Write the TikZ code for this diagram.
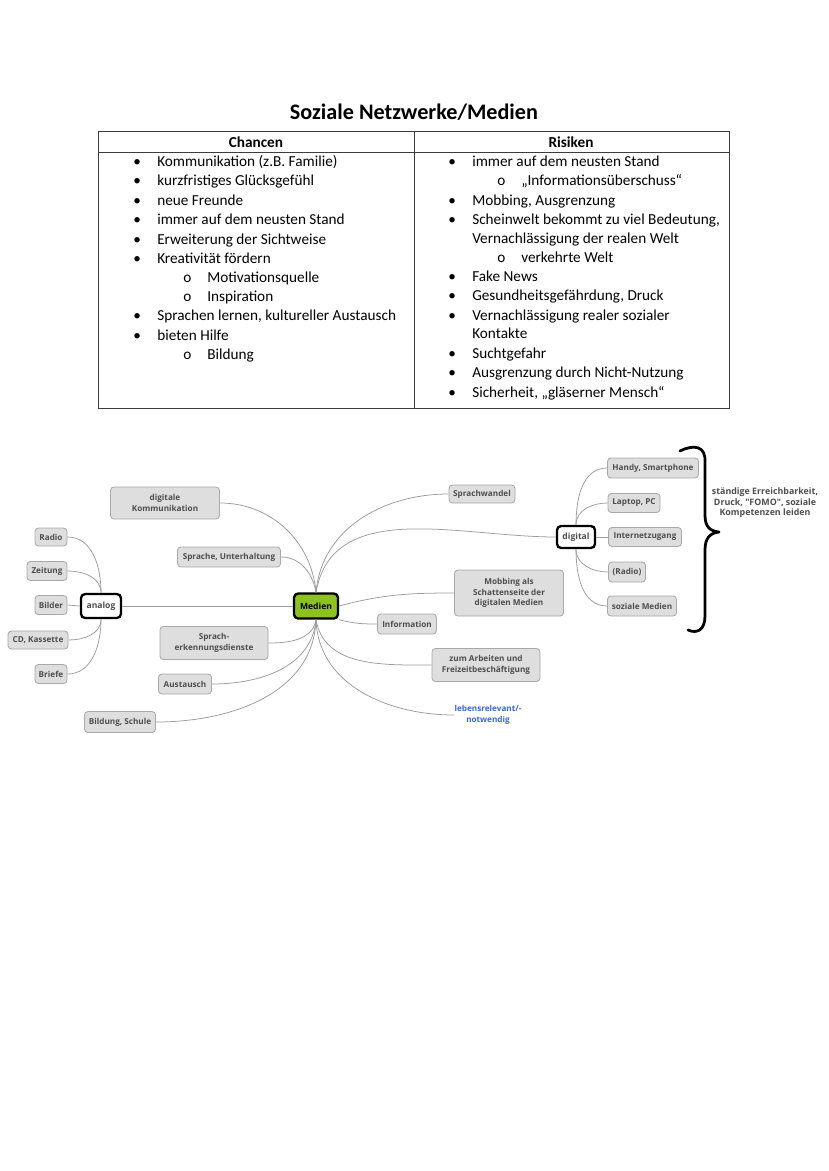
\documentclass[tikz,border=0pt]{standalone}
\usepackage{fontspec}
\setmainfont{Carlito}
\newfontfamily\mapfont{Open Sans}
\usepackage{tikz}
\usetikzlibrary{positioning}

\definecolor{boxgray}{HTML}{DEDEDE}
\definecolor{boxline}{HTML}{A8A8A8}
\definecolor{txtgray}{HTML}{4E4E4E}
\definecolor{wiregray}{HTML}{9C9C9C}
\definecolor{mediengreen}{HTML}{8DC21F}
\definecolor{linkblue}{HTML}{3A66D8}
\definecolor{rulegray}{HTML}{3C3C3C}

\newdimen\px \px=0.2536mm
\newcommand{\itm}[1]{\makebox[24\px][l]{\textbullet}#1}
\newcommand{\subitm}[1]{\makebox[24\px][l]{o}#1}

\begin{document}
\begin{tikzpicture}[x=0.2536mm,y=-0.2536mm]
            \tikzstyle{every node}=[inner sep=0pt]
            \tikzset{
              item/.style={anchor=base west, font=\fontsize{11}{13}\selectfont},
              head/.style={font=\bfseries\fontsize{11}{13}\selectfont},
              topic/.style={draw=boxline, fill=boxgray, rounded corners=2.5pt, line width=0.6pt,
                font=\mapfont\bfseries\fontsize{5.9}{7.6}\selectfont, text=txtgray, align=center},
              hub/.style={draw=black, line width=1.7pt, rounded corners=3pt, fill=white,
                font=\mapfont\bfseries\fontsize{6.2}{7}\selectfont, text=txtgray},
              wire/.style={draw=wiregray, line width=0.55pt},
            }
            % background / page size
            \useasboundingbox (0,0) rectangle (828,1171);
            % title and table
            \node (title) [font=\bfseries\fontsize{16}{19}\selectfont] at (414,112) {Soziale Netzwerke/Medien};
            \draw [draw=rulegray, line width=0.7pt] (98,131) rectangle (729,408);
            \draw [draw=rulegray, line width=0.7pt] (98,152) -- (729,152);
            \draw [draw=rulegray, line width=0.7pt] (414,131) -- (414,408);
            \node (chancen) [head] at (256,142) {Chancen};
            \node (risiken) [head] at (571,142) {Risiken};
            % Chancen
            \node (c1) [item] at (133,166) {\itm{Kommunikation (z.B. Familie)}};
            \node (c2) [item] at (133,185) {\itm{kurzfristiges Glücksgefühl}};
            \node (c3) [item] at (133,205) {\itm{neue Freunde}};
            \node (c4) [item] at (133,224) {\itm{immer auf dem neusten Stand}};
            \node (c5) [item] at (133,244) {\itm{Erweiterung der Sichtweise}};
            \node (c6) [item] at (133,263) {\itm{Kreativität fördern}};
            \node (c7) [item] at (183,282) {\subitm{Motivationsquelle}};
            \node (c8) [item] at (183,301) {\subitm{Inspiration}};
            \node (c9) [item] at (133,320) {\itm{Sprachen lernen, kultureller Austausch}};
            \node (c10) [item] at (133,340) {\itm{bieten Hilfe}};
            \node (c11) [item] at (183,359) {\subitm{Bildung}};
            % Risiken
            \node (r1) [item] at (448,166) {\itm{immer auf dem neusten Stand}};
            \node (r2) [item] at (497,185) {\subitm{„Informationsüberschuss“}};
            \node (r3) [item] at (448,205) {\itm{Mobbing, Ausgrenzung}};
            \node (r4) [item] at (448,224) {\itm{Scheinwelt bekommt zu viel Bedeutung,}};
            \node (r5) [item] at (472,243) {Vernachlässigung der realen Welt};
            \node (r6) [item] at (497,262) {\subitm{verkehrte Welt}};
            \node (r7) [item] at (448,281) {\itm{Fake News}};
            \node (r8) [item] at (448,300) {\itm{Gesundheitsgefährdung, Druck}};
            \node (r9) [item] at (448,320) {\itm{Vernachlässigung realer sozialer}};
            \node (r10) [item] at (472,338) {Kontakte};
            \node (r11) [item] at (448,358) {\itm{Suchtgefahr}};
            \node (r12) [item] at (448,377) {\itm{Ausgrenzung durch Nicht-Nutzung}};
            \node (r13) [item] at (448,397) {\itm{Sicherheit, „gläserner Mensch“}};
            % mind map: centre and hubs
            \node (medien) [hub, fill=mediengreen, text=black, minimum width=44\px, minimum height=25\px] at (316,606) {Medien};
            \node (analog) [hub, minimum width=40\px, minimum height=24\px] at (101,606) {analog};
            \node (digital) [hub, minimum width=38\px, minimum height=22\px] at (576,537) {digital};
            % analog branch
            \node (radio) [topic, minimum width=32\px, minimum height=18\px] at (51,537) {Radio};
            \node (zeitung) [topic, minimum width=40\px, minimum height=19\px] at (47,571) {Zeitung};
            \node (bilder) [topic, minimum width=32\px, minimum height=19\px] at (51,605) {Bilder};
            \node (cd) [topic, minimum width=60\px, minimum height=18\px] at (38,640) {CD, Kassette};
            \node (briefe) [topic, minimum width=32\px, minimum height=19\px] at (51,674) {Briefe};
            % left topics
            \node (digkomm) [topic, minimum width=109\px, minimum height=32\px] at (165,503) {digitale\\Kommunikation};
            \node (sprache) [topic, minimum width=103\px, minimum height=20\px] at (229,557) {Sprache, Unterhaltung};
            \node (spracherk) [topic, minimum width=108\px, minimum height=33\px] at (214,643) {Sprach-\\erkennungsdienste};
            \node (austausch) [topic, minimum width=53\px, minimum height=20\px] at (185,684) {Austausch};
            \node (bildung) [topic, minimum width=71\px, minimum height=21\px] at (120,722) {Bildung, Schule};
            % right topics
            \node (sprachwandel) [topic, minimum width=66\px, minimum height=18\px] at (482,494) {Sprachwandel};
            \node (mobbing) [topic, minimum width=109\px, minimum height=46\px] at (509,593) {Mobbing als\\Schattenseite der\\digitalen Medien};
            \node (information) [topic, minimum width=59\px, minimum height=20\px] at (407,624) {Information};
            \node (arbeiten) [topic, minimum width=108\px, minimum height=33\px] at (486,665) {zum Arbeiten und\\Freizeitbeschäftigung};
            \node (lebens) [font=\mapfont\bfseries\fontsize{5.9}{7.6}\selectfont, text=linkblue, align=center] at (488,715) {lebensrelevant/-\\notwendig};
            % digital branch
            \node (handy) [topic, minimum width=91\px, minimum height=20\px] at (653,468) {Handy, Smartphone};
            \node (laptop) [topic, minimum width=52\px, minimum height=19\px] at (634,503) {Laptop, PC};
            \node (internet) [topic, minimum width=73\px, minimum height=19\px] at (645,537) {Internetzugang};
            \node (radiodig) [topic, minimum width=37\px, minimum height=20\px] at (627,572) {(Radio)};
            \node (sozmed) [topic, minimum width=69\px, minimum height=20\px] at (642,606) {soziale Medien};
            \node (folgen) [font=\mapfont\bfseries\fontsize{6.4}{7.6}\selectfont, text=txtgray, align=center] at (765,503) {ständige Erreichbarkeit,\\Druck, "FOMO", soziale\\Kompetenzen leiden};
            % connectors
            \draw [wire] (medien.west) -- (analog.east);
            \draw [wire] (analog.north) to[out=90, in=0] (radio.east);
            \draw [wire] (analog.north) to[out=90, in=0] (zeitung.east);
            \draw [wire] (analog.west) -- (bilder.east);
            \draw [wire] (analog.south) to[out=-90, in=0] (cd.east);
            \draw [wire] (analog.south) to[out=-90, in=0] (briefe.east);
            \draw [wire] (medien.north) to[out=95, in=0] (digkomm.east);
            \draw [wire] (medien.north) to[out=100, in=0] (sprache.east);
            \draw [wire] (medien.south) to[out=-100, in=0] (spracherk.east);
            \draw [wire] (medien.south) to[out=-95, in=0] (austausch.east);
            \draw [wire] (medien.south) to[out=-92, in=0] (bildung.east);
            \draw [wire] (medien.north) to[out=85, in=180] (sprachwandel.west);
            \draw [wire] (medien.north) to[out=80, in=180] (digital.west);
            \draw [wire] (medien.east) to[out=15, in=180] (mobbing.west);
            \draw [wire] (medien.south east) to[out=-15, in=180] (information.west);
            \draw [wire] (medien.south) to[out=-80, in=180] (arbeiten.west);
            \draw [wire] (medien.south) to[out=-88, in=180] (lebens.west);
            \draw [wire] (digital.north) to[out=90, in=180] (handy.west);
            \draw [wire] (digital.north) to[out=90, in=180] (laptop.west);
            \draw [wire] (digital.east) -- (internet.west);
            \draw [wire] (digital.south) to[out=-90, in=180] (radiodig.west);
            \draw [wire] (digital.south) to[out=-90, in=180] (sozmed.west);
            % brace
            \draw [line width=2pt, line cap=round, line join=round] (680,451) .. controls (694,444) and (706,446) .. (705,462) -- (705,515) .. controls (705,527) and (710,531) .. (719,532) .. controls (710,533) and (705,538) .. (705,550) -- (705,616) .. controls (705,630) and (697,634) .. (688,630);
        \end{tikzpicture}
\end{document}
